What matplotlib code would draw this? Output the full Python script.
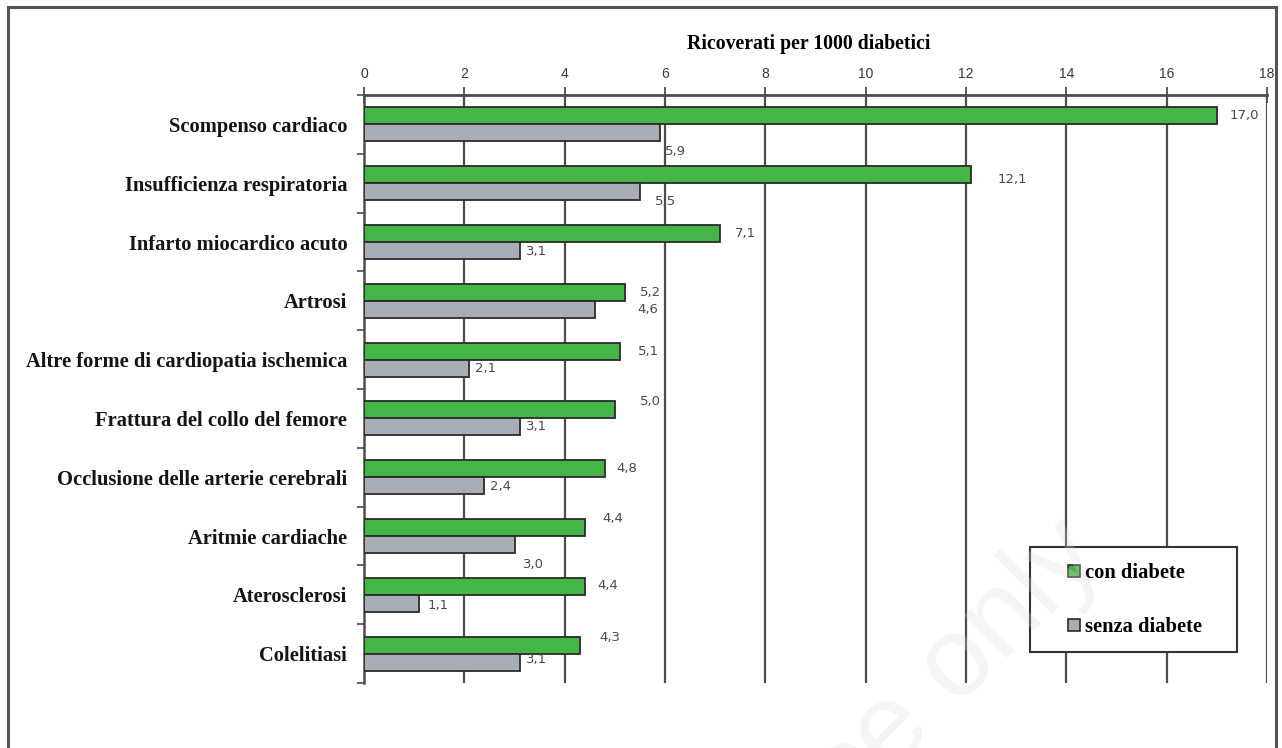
import matplotlib
matplotlib.use("Agg")
import matplotlib.pyplot as plt
from matplotlib.lines import Line2D
from matplotlib.patches import Rectangle
import numpy as np

# Data
categories = [
    "Scompenso cardiaco",
    "Insufficienza respiratoria",
    "Infarto miocardico acuto",
    "Artrosi",
    "Altre forme di cardiopatia ischemica",
    "Frattura del collo del femore",
    "Occlusione delle arterie cerebrali",
    "Aritmie cardiache",
    "Aterosclerosi",
    "Colelitiasi",
]
con_diabete = [17.0, 12.1, 7.1, 5.2, 5.1, 5.0, 4.8, 4.4, 4.4, 4.3]
senza_diabete = [5.9, 5.5, 3.1, 4.6, 2.1, 3.1, 2.4, 3.0, 1.1, 3.1]
series_names = ["con diabete", "senza diabete"]
x_ticks = [0, 2, 4, 6, 8, 10, 12, 14, 16, 18]
axis_title = "Ricoverati per 1000 diabetici"

# Value-label nudges in pixels (dx from bar end, dy upward)
con_label_off = [(13, 0), (27, -5), (15, 0), (15, 0), (18, 0), (25, 8), (12, 0), (18, 9), (13, 1), (20, 8)]
senza_label_off = [(5, -19), (15, -10), (6, -1), (43, 0), (6, 0), (6, 0), (6, -1), (8, -20), (8, -2), (6, 3)]

GREEN = "#46b548"
GREY = "#a9adb6"
EDGE = "#2b2b2b"
GRID = "#4d4d4d"

W, H = 1282, 748
fig = plt.figure(figsize=(W / 100, H / 100), dpi=100)
fig.patch.set_facecolor("white")

ax_l, ax_r, ax_t, ax_b = 364, 1267, 95, 683
ax = fig.add_axes([ax_l / W, 1 - ax_b / H, (ax_r - ax_l) / W, (ax_b - ax_t) / H])

n = len(categories)
y = np.arange(n)
bh = 0.29

ax.barh(y - bh / 2, con_diabete, height=bh, color=GREEN, edgecolor=EDGE, linewidth=1.3, zorder=3)
ax.barh(y + bh / 2, senza_diabete, height=bh, color=GREY, edgecolor=EDGE, linewidth=1.3, zorder=3)

lab_font = dict(family="DejaVu Sans", fontsize=9.5, color="#4a4a4a")
for i in range(n):
    dx, dy = con_label_off[i]
    ax.annotate(f"{con_diabete[i]:.1f}".replace(".", ","), (con_diabete[i], y[i] - bh / 2),
                xytext=(dx, dy), textcoords="offset pixels", ha="left", va="center", **lab_font)
    dx, dy = senza_label_off[i]
    ax.annotate(f"{senza_diabete[i]:.1f}".replace(".", ","), (senza_diabete[i], y[i] + bh / 2),
                xytext=(dx, dy), textcoords="offset pixels", ha="left", va="center", **lab_font)

ax.set_xlim(0, 18)
ax.set_ylim(n - 0.5, -0.5)

# x axis on top with vertical grid lines
ax.xaxis.tick_top()
ax.set_xticks(x_ticks)
ax.set_xticklabels([str(t) for t in x_ticks], family="Liberation Sans", fontsize=10, color="#383838")
ax.tick_params(axis="x", which="major", direction="inout", length=12, width=1.3, color=GRID, pad=4)
for t in x_ticks[1:]:
    ax.axvline(t, color=GRID, linewidth=1.6, zorder=1)

# y axis: labels at category centres, ticks at boundaries
ax.set_yticks(y)
ax.set_yticklabels(categories, family="Liberation Serif", fontweight="bold", fontsize=14.8, color="#141414")
ax.tick_params(axis="y", which="major", length=0, pad=12)
ax.set_yticks(np.arange(-0.5, n + 0.5, 1), minor=True)
ax.tick_params(axis="y", which="minor", direction="out", length=5, width=1.2, color=GRID)

for side in ["right", "bottom"]:
    ax.spines[side].set_visible(False)
ax.spines["top"].set_color(GRID)
ax.spines["top"].set_linewidth(2.0)
ax.spines["left"].set_color(GRID)
ax.spines["left"].set_linewidth(1.8)

ax.set_xlabel(axis_title, family="Liberation Serif", fontweight="bold", fontsize=14.2)
ax.xaxis.set_label_position("top")
ax.xaxis.set_label_coords((809 - ax_l) / (ax_r - ax_l), (ax_b - 44) / (ax_b - ax_t),
                          transform=ax.transAxes)
ax.xaxis.label.set_va("center")

# Legend box
fig.patches.append(Rectangle((1030 / W, 1 - 652 / H), 207 / W, 105 / H, transform=fig.transFigure,
                             facecolor="white", edgecolor="#333333", linewidth=1.5, zorder=2))
handles = [
    Line2D([], [], marker="s", linestyle="none", markersize=8.5, markerfacecolor=GREEN, markeredgecolor=EDGE, markeredgewidth=1.2),
    Line2D([], [], marker="s", linestyle="none", markersize=8.5, markerfacecolor=GREY, markeredgecolor=EDGE, markeredgewidth=1.2),
]
leg = fig.legend(handles, series_names, loc="center left", bbox_to_anchor=(1058 / W, 1 - 600 / H),
                 frameon=False, handlelength=0.6, handletextpad=0.2, labelspacing=1.65, borderpad=0,
                 prop=dict(family="Liberation Serif", weight="bold", size=14.8))
leg.set_zorder(6)

# Outer frame
for xs, ys in [((8, 8), (748, 7)), ((8, 1276), (7, 7)), ((1276, 1276), (7, 748))]:
    fig.add_artist(Line2D([x / W for x in xs], [1 - v / H for v in ys], transform=fig.transFigure,
                          color="#555555", linewidth=2.2))

# Faint watermark
fig.text(1105 / W, 1 - 560 / H, "Reference only", rotation=45, rotation_mode="anchor",
         ha="right", va="baseline", fontsize=82, family="Liberation Sans",
         color="#dcdcdc", alpha=0.28, zorder=10)

fig.savefig("out.png", dpi=100, facecolor="white")
